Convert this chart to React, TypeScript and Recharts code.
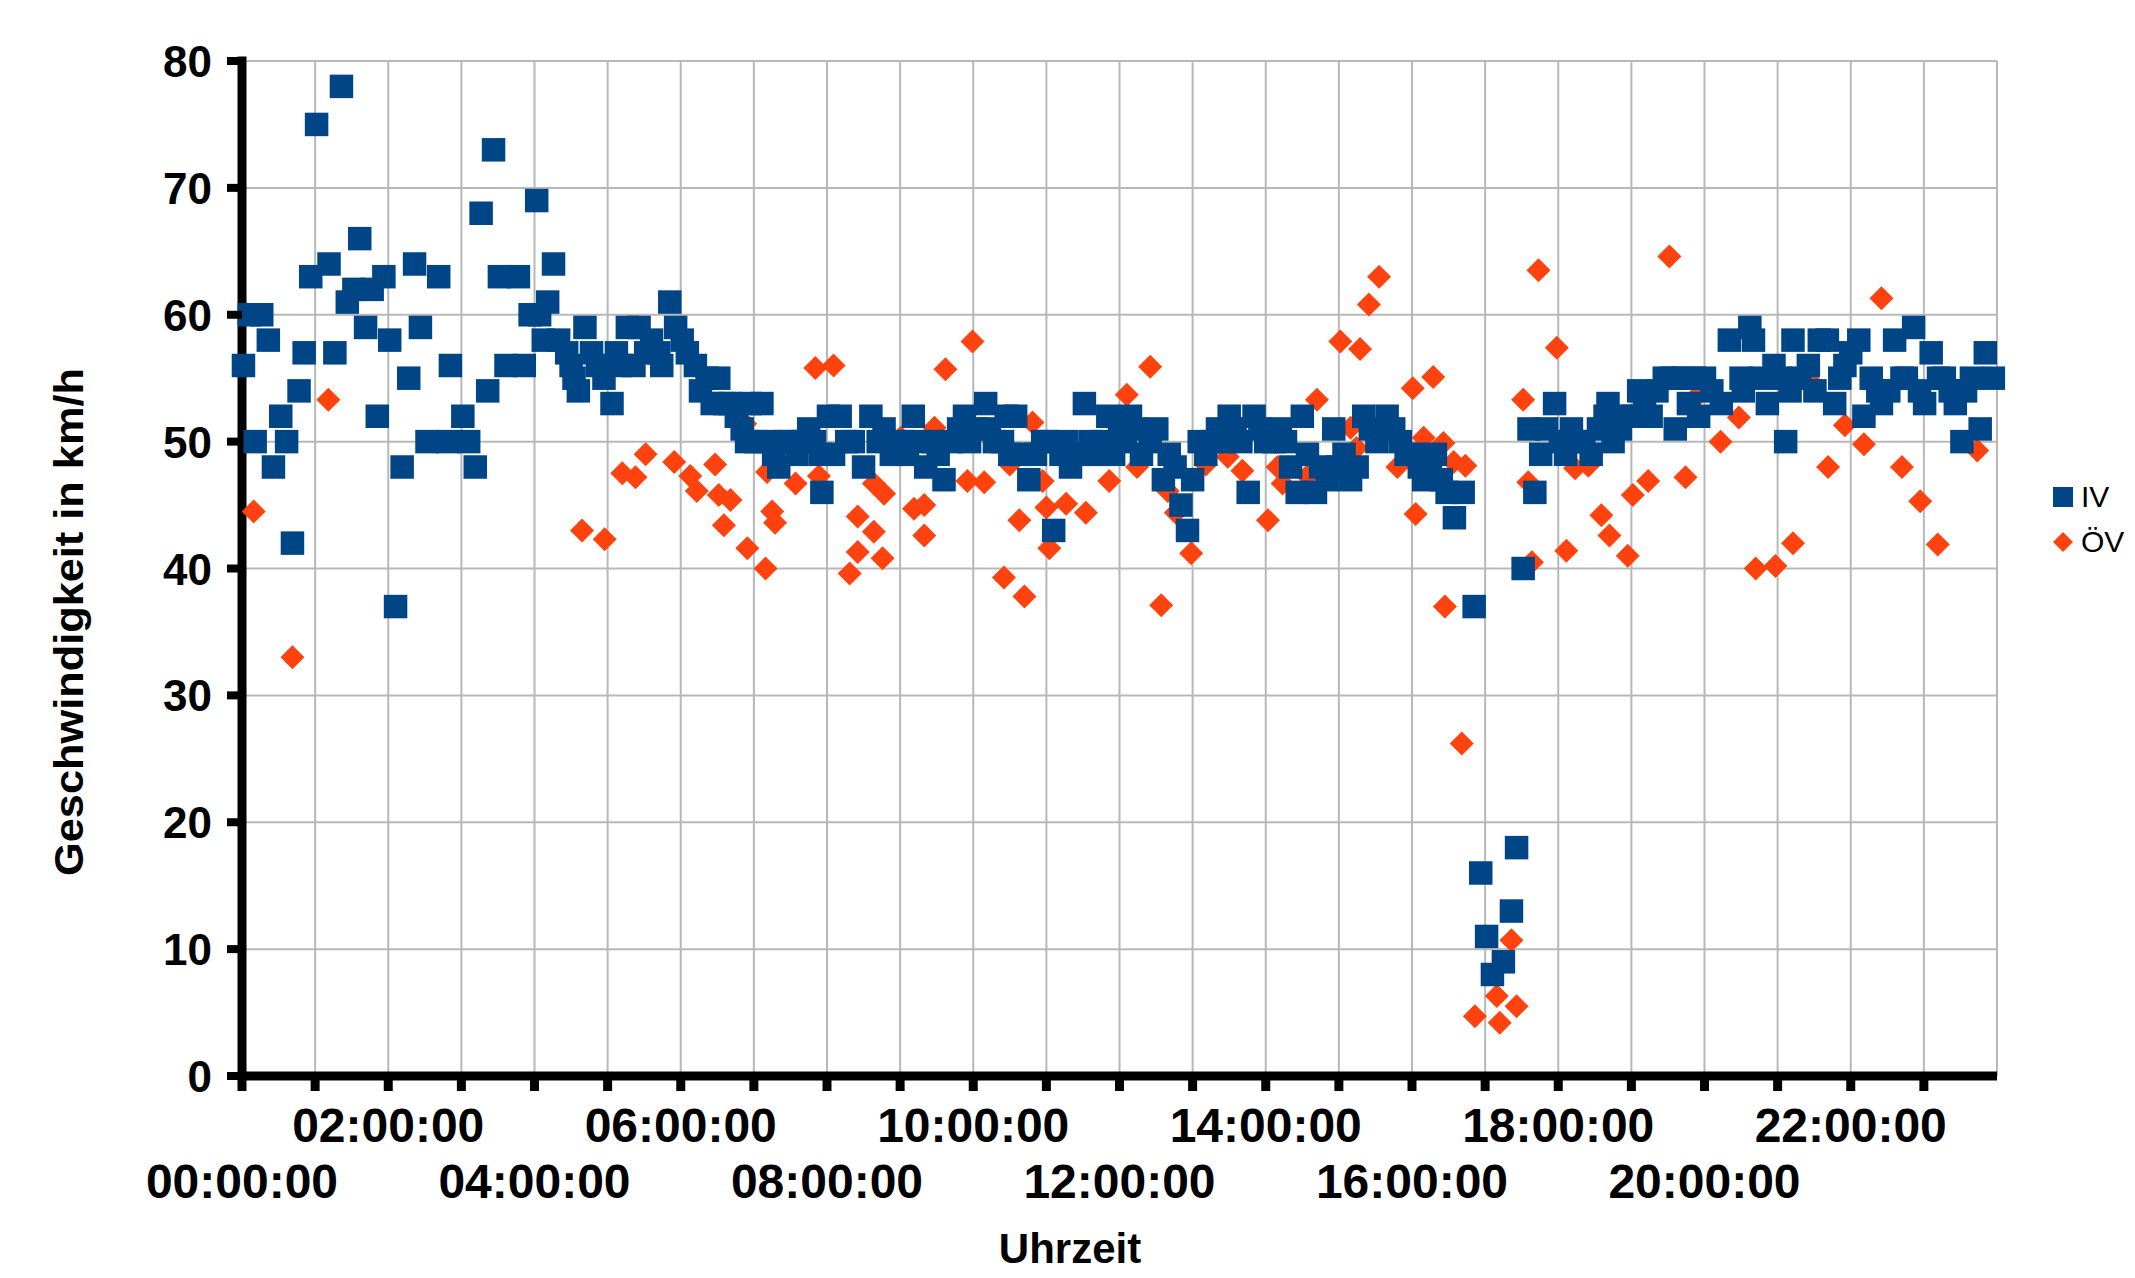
import { ScatterChart, Scatter, XAxis, YAxis, CartesianGrid } from 'recharts'

// time of day in decimal hours, speed in km/h
const ivPoints: [number, number][] = [
  [0.02, 56], [0.1, 60], [0.18, 50], [0.27, 60], [0.36, 58], [0.43, 48], [0.53, 52], [0.61, 50], [0.69, 42], [0.78, 54], [0.85, 57], [0.94, 63],
  [1.02, 75], [1.19, 64], [1.27, 57], [1.36, 78], [1.44, 61], [1.53, 62], [1.61, 66], [1.69, 59], [1.78, 62], [1.85, 52], [1.94, 63],
  [2.02, 58], [2.1, 37], [2.19, 48], [2.28, 55], [2.36, 64], [2.44, 59], [2.53, 50], [2.69, 63], [2.81, 50], [2.85, 56],
  [3.02, 52], [3.1, 50], [3.19, 48], [3.27, 68], [3.36, 54], [3.44, 73], [3.52, 63], [3.61, 56], [3.78, 63], [3.86, 56], [3.94, 60],
  [4.03, 69], [4.07, 60], [4.12, 58], [4.18, 61], [4.26, 64], [4.33, 58], [4.44, 57], [4.5, 56], [4.54, 55], [4.6, 54], [4.69, 59], [4.78, 57], [4.86, 56], [4.95, 55],
  [5.06, 53], [5.12, 57], [5.18, 56], [5.27, 59], [5.36, 56], [5.43, 59], [5.52, 57], [5.6, 58], [5.7, 57], [5.74, 56], [5.85, 61], [5.93, 59],
  [6.02, 58], [6.09, 57], [6.2, 56], [6.27, 54], [6.36, 55], [6.43, 53], [6.52, 55], [6.6, 53], [6.68, 53], [6.76, 52], [6.84, 51], [6.9, 50], [6.95, 53],
  [7.03, 50], [7.11, 53], [7.2, 50], [7.27, 49], [7.34, 48], [7.42, 50], [7.5, 50], [7.59, 49], [7.67, 50], [7.75, 51], [7.83, 50], [7.91, 49], [7.93, 46],
  [8.02, 52], [8.09, 49], [8.18, 52], [8.27, 50], [8.36, 50], [8.5, 48], [8.6, 52], [8.7, 50], [8.78, 51], [8.88, 49], [8.95, 50],
  [9.03, 50], [9.1, 49], [9.18, 52], [9.27, 50], [9.35, 48], [9.45, 50], [9.52, 49], [9.6, 47], [9.7, 50], [9.8, 51], [9.88, 52], [9.95, 50],
  [10.05, 51], [10.17, 53], [10.22, 51], [10.29, 50], [10.4, 50], [10.45, 52], [10.5, 49], [10.58, 52], [10.64, 49], [10.76, 47], [10.85, 49], [10.95, 50],
  [11.03, 50], [11.1, 43], [11.2, 49], [11.28, 50], [11.33, 48], [11.42, 49], [11.52, 53], [11.6, 50], [11.7, 49], [11.78, 50], [11.84, 52], [11.92, 49],
  [12.0, 51], [12.08, 50], [12.15, 52], [12.22, 51], [12.3, 49], [12.42, 50], [12.51, 51], [12.6, 47], [12.68, 49], [12.76, 48], [12.84, 45], [12.93, 43],
  [13.0, 47], [13.09, 50], [13.18, 49], [13.26, 50], [13.34, 51], [13.42, 50], [13.5, 52], [13.58, 51], [13.66, 50], [13.76, 46], [13.84, 52], [13.92, 51],
  [14.0, 50], [14.11, 50], [14.2, 51], [14.27, 50], [14.34, 48], [14.43, 46], [14.5, 52], [14.57, 49], [14.68, 46], [14.75, 48], [14.84, 47], [14.93, 51],
  [14.98, 48], [15.07, 49], [15.16, 47], [15.25, 48], [15.34, 52], [15.43, 51], [15.52, 50], [15.6, 51], [15.66, 52], [15.75, 51], [15.84, 50], [15.92, 49],
  [16.02, 49], [16.1, 48], [16.16, 47], [16.25, 48], [16.32, 49], [16.4, 47], [16.48, 46], [16.58, 44], [16.7, 46], [16.85, 37], [16.94, 16],
  [17.02, 11], [17.1, 8], [17.25, 9], [17.36, 13], [17.43, 18], [17.52, 40], [17.6, 51], [17.68, 46], [17.76, 49], [17.84, 51], [17.95, 53],
  [18.03, 50], [18.1, 49], [18.18, 51], [18.25, 50], [18.35, 50], [18.45, 49], [18.55, 51], [18.64, 52], [18.68, 53], [18.75, 50], [18.85, 51], [18.95, 52],
  [19.02, 52], [19.1, 54], [19.18, 53], [19.27, 52], [19.35, 54], [19.45, 55], [19.55, 55], [19.6, 51], [19.7, 55], [19.78, 53], [19.86, 55], [19.92, 52],
  [20.0, 55], [20.1, 54], [20.23, 53], [20.34, 58], [20.5, 55], [20.53, 54], [20.62, 59], [20.67, 58], [20.76, 55], [20.86, 53], [20.95, 56],
  [21.04, 55], [21.11, 50], [21.17, 54], [21.21, 58], [21.3, 55], [21.42, 56], [21.51, 54], [21.57, 58], [21.68, 58], [21.78, 53], [21.85, 55], [21.92, 56],
  [22.0, 57], [22.11, 58], [22.18, 52], [22.28, 55], [22.37, 54], [22.42, 53], [22.52, 54], [22.6, 58], [22.7, 55], [22.76, 55], [22.86, 59], [22.94, 54],
  [23.01, 53], [23.1, 57], [23.2, 55], [23.28, 55], [23.36, 54], [23.43, 53], [23.52, 50], [23.57, 54], [23.65, 55], [23.77, 51], [23.84, 57], [23.95, 55],
]

const ovPoints: [number, number][] = [
  [0.16, 44.5], [0.69, 33], [1.18, 53.3],
  [4.65, 43], [4.96, 42.3], [5.2, 47.5], [5.38, 47.2], [5.52, 49], [5.91, 48.4],
  [6.13, 47.3], [6.22, 46.1], [6.47, 48.2], [6.52, 45.8], [6.59, 43.4], [6.68, 45.4], [6.88, 51.4], [6.91, 41.6],
  [7.16, 40], [7.18, 47.6], [7.25, 44.5], [7.29, 43.6], [7.57, 46.7], [7.8, 49.9], [7.84, 55.8], [7.89, 47.3],
  [8.09, 56], [8.31, 39.6], [8.42, 44.1], [8.42, 41.3], [8.64, 46.7], [8.64, 42.9], [8.76, 40.8], [8.78, 45.9],
  [9.01, 50.3], [9.19, 44.7], [9.33, 45], [9.33, 42.6], [9.47, 51.1], [9.62, 55.7], [9.92, 46.9], [9.99, 57.9],
  [10.15, 46.8], [10.42, 39.3], [10.5, 48.2], [10.63, 43.8], [10.7, 37.8], [10.81, 51.5], [10.95, 46.9], [10.97, 49.8],
  [11.0, 44.8], [11.04, 41.6], [11.27, 45.1], [11.54, 44.4], [11.86, 46.9],
  [12.1, 53.7], [12.24, 48], [12.42, 55.9], [12.57, 37.1], [12.66, 46.1], [12.77, 44.4], [12.98, 41.2],
  [13.18, 48.2], [13.48, 48.8], [13.68, 47.7],
  [14.03, 43.8], [14.16, 48], [14.23, 46.7], [14.57, 47.3], [14.7, 53.3],
  [15.02, 57.9], [15.16, 51.1], [15.24, 49.5], [15.29, 57.3], [15.41, 60.8], [15.55, 63], [15.8, 48],
  [16.01, 54.2], [16.05, 44.3], [16.16, 50.3], [16.29, 55.1], [16.43, 49.9], [16.45, 37], [16.57, 48.4], [16.68, 26.2], [16.73, 48.1], [16.86, 4.7],
  [17.16, 6.3], [17.2, 4.2], [17.36, 10.7], [17.43, 5.5], [17.52, 53.3], [17.59, 46.8], [17.64, 40.5], [17.73, 63.5], [17.98, 57.4],
  [18.11, 41.4], [18.23, 47.9], [18.41, 48.1], [18.59, 44.2], [18.7, 42.6], [18.95, 41],
  [19.02, 45.8], [19.23, 46.9], [19.52, 64.6], [19.74, 47.2], [19.9, 53.6],
  [20.22, 50], [20.47, 51.9], [20.7, 40], [20.97, 40.2],
  [21.21, 42], [21.44, 54.8], [21.69, 48], [21.92, 51.3],
  [22.18, 49.8], [22.42, 61.3], [22.7, 48], [22.95, 45.3],
  [23.19, 41.9], [23.73, 49.3],
]

const hourTicks = [0, 1, 2, 3, 4, 5, 6, 7, 8, 9, 10, 11, 12, 13, 14, 15, 16, 17, 18, 19, 20, 21, 22, 23, 24]
const hourLabels = [
  '00:00:00', '02:00:00', '04:00:00', '06:00:00', '08:00:00', '10:00:00',
  '12:00:00', '14:00:00', '16:00:00', '18:00:00', '20:00:00', '22:00:00',
]
const speedTicks = [0, 10, 20, 30, 40, 50, 60, 70, 80]

const ivData = ivPoints.map(([h, v]) => ({ h, v }))
const ovData = ovPoints.map(([h, v]) => ({ h, v }))

const FONT = '"Liberation Sans", Arial, Helvetica, sans-serif'
const IV_COLOR = '#004586'
const OV_COLOR = '#ff420e'

function HourTick({ x, y, payload }: any) {
  const h = payload.value
  if (h >= 24) return null
  const label = h % 2 === 0 ? hourLabels[h / 2] : null
  const upper = h % 4 === 2
  return (
    <g>
      <line x1={x} x2={x} y1={y} y2={y + 15} stroke="#000" strokeWidth={9} />
      {label && (
        <text x={x} y={y + (upper ? 66 : 122)} textAnchor="middle" fontFamily={FONT} fontWeight="bold" fontSize={48} fill="#000">
          {label}
        </text>
      )}
    </g>
  )
}

function SpeedTick({ x, y, payload }: any) {
  return (
    <g>
      <line x1={x - 15} x2={x} y1={y} y2={y} stroke="#000" strokeWidth={8} />
      <text x={x - 30} y={y + 16} textAnchor="end" fontFamily={FONT} fontWeight="bold" fontSize={44} fill="#000">
        {payload.value}
      </text>
    </g>
  )
}

const Square = (p: any) => (
  <rect x={p.cx - 11.75} y={p.cy - 11.75} width={23.5} height={23.5} fill={IV_COLOR} />
)

const Diamond = (p: any) => {
  const r = 12
  return (
    <polygon
      points={`${p.cx},${p.cy - r} ${p.cx + r},${p.cy} ${p.cx},${p.cy + r} ${p.cx - r},${p.cy}`}
      fill={OV_COLOR}
    />
  )
}

const yTitle = () => (
  <text
    transform="translate(83, 622) rotate(-90)"
    textAnchor="middle"
    fontFamily={FONT}
    fontWeight="bold"
    fontSize={40}
    textLength={508}
    lengthAdjust="spacingAndGlyphs"
    fill="#000"
  >
    Geschwindigkeit in km/h
  </text>
)

const xTitle = () => (
  <text x={1070} y={1263} textAnchor="middle" fontFamily={FONT} fontWeight="bold" fontSize={42} fill="#000">
    Uhrzeit
  </text>
)

function LegendRow({ top, label, diamond }: { top: number; label: string; diamond?: boolean }) {
  return (
    <div style={{ position: 'absolute', left: 2053, top, height: 30, display: 'flex', alignItems: 'center' }}>
      <svg width={20} height={20} style={{ display: 'block' }}>
        {diamond ? (
          <polygon points="10,0 20,10 10,20 0,10" fill={OV_COLOR} />
        ) : (
          <rect x={0} y={0} width={20} height={20} fill={IV_COLOR} />
        )}
      </svg>
      <span style={{ marginLeft: 8, fontFamily: FONT, fontSize: 30, color: '#000', lineHeight: '30px' }}>{label}</span>
    </div>
  )
}

export default function App() {
  return (
    <div style={{ position: 'absolute', left: 0, top: 0, width: 2135, height: 1278, background: '#fff', overflow: 'hidden' }}>
      <ScatterChart width={2135} height={1278} margin={{ top: 61, right: 138, bottom: 0, left: 0 }}>
        <CartesianGrid stroke="#b8b8b8" strokeWidth={2} />
        <XAxis
          type="number"
          dataKey="h"
          domain={[0, 24]}
          ticks={hourTicks}
          interval={0}
          height={202}
          tickSize={0}
          tickMargin={0}
          tickLine={false}
          tick={<HourTick />}
          axisLine={{ stroke: '#000', strokeWidth: 9 }}
          label={xTitle}
        />
        <YAxis
          type="number"
          dataKey="v"
          domain={[0, 80]}
          ticks={speedTicks}
          interval={0}
          width={242}
          tickSize={0}
          tickMargin={0}
          tickLine={false}
          tick={<SpeedTick />}
          axisLine={{ stroke: '#000', strokeWidth: 9, strokeLinecap: 'square' }}
          label={yTitle}
        />
        <Scatter name="ÖV" data={ovData} shape={Diamond} isAnimationActive={false} />
        <Scatter name="IV" data={ivData} shape={Square} isAnimationActive={false} />
      </ScatterChart>
      <LegendRow top={482} label="IV" />
      <LegendRow top={527} label="ÖV" diamond />
    </div>
  )
}
